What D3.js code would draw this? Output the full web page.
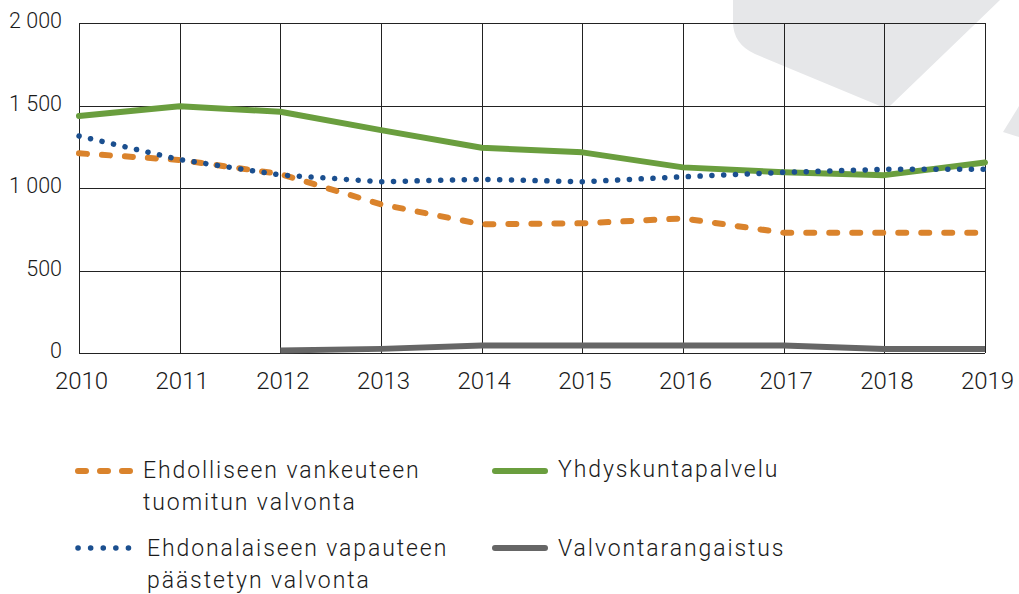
<!DOCTYPE html>
<html>
<head>
<meta charset="utf-8">
<script src="https://cdn.jsdelivr.net/npm/d3@7"></script>
<style>
  html, body { margin: 0; padding: 0; background: #fff; }
  svg { display: block; }
  text { font-family: Roboto, "Noto Sans", sans-serif; font-weight: 300; fill: #1a1a1a; }
</style>
</head>
<body>
<svg id="chart" width="1019" height="594"></svg>
<script>
const years = [2010, 2011, 2012, 2013, 2014, 2015, 2016, 2017, 2018, 2019];
const yTicks = [0, 500, 1000, 1500, 2000];

const ehdollinen = [1210, 1170, 1085, 901, 780, 786, 816, 729, 729, 729];
const ehdonalainen = [1315, 1172, 1079, 1038, 1053, 1038, 1068, 1095, 1113, 1113];
const yhdyskunta = [1436, 1495, 1462, 1351, 1244, 1216, 1125, 1096, 1078, 1155];
const valvontarangaistus = [null, null, 15, 25, 45, 45, 45, 45, 25, 25];

const seriesNames = [
  ["Ehdolliseen vankeuteen", "tuomitun valvonta"],
  ["Ehdonalaiseen vapauteen", "päästetyn valvonta"],
  ["Yhdyskuntapalvelu"],
  ["Valvontarangaistus"]
];

const svg = d3.select("#chart");
const x = d3.scaleLinear().domain([2010, 2019]).range([79, 985]);
const y = d3.scaleLinear().domain([0, 2000]).range([353, 23]);

const fmt = d3.formatLocale({decimal: ",", thousands: " ", grouping: [3], currency: ["", "€"]}).format(",d");

// decorative background shapes
svg.append("path")
  .attr("d", "M733,0 L733,22 Q733,44 755,54 L880,106 Q887,110 892,104 L1000,0 Z")
  .attr("fill", "#e6e7e9");
svg.append("path")
  .attr("d", "M1003,132 L1019,106 L1019,137 Z")
  .attr("fill", "#e6e7e9");

// gridlines
const grid = svg.append("g");
grid.selectAll("line.h").data(yTicks).enter().append("line")
  .attr("x1", x(2010)).attr("x2", x(2019))
  .attr("y1", d => Math.round(y(d)) + 0.5).attr("y2", d => Math.round(y(d)) + 0.5)
  .attr("stroke", "#222").attr("stroke-width", 1);
grid.selectAll("line.v").data(years).enter().append("line")
  .attr("x1", d => Math.round(x(d)) + 0.5).attr("x2", d => Math.round(x(d)) + 0.5)
  .attr("y1", y(2000)).attr("y2", y(0))
  .attr("stroke", "#222").attr("stroke-width", 1);

// axis labels via d3 axes
const yAxis = d3.axisLeft(y).tickValues(yTicks).tickFormat(fmt).tickSize(0).tickPadding(0);
const gy = svg.append("g").attr("transform", "translate(62,-2)").call(yAxis);
gy.select(".domain").remove();
gy.selectAll("text").attr("font-size", 21.5).attr("font-family", "Roboto").attr("font-weight", 300).attr("fill", "#1a1a1a");

const xAxis = d3.axisBottom(x).tickValues(years).tickFormat(d3.format("d")).tickSize(0).tickPadding(0);
const gx = svg.append("g").attr("transform", "translate(2,372)").call(xAxis);
gx.select(".domain").remove();
gx.selectAll("text").attr("font-size", 24).attr("font-family", "Roboto").attr("font-weight", 300).attr("fill", "#1a1a1a").attr("dy", "0.71em");

const line = d3.line().defined(d => d[1] != null).x(d => x(d[0])).y(d => y(d[1]));
const pts = arr => years.map((yr, i) => [yr, arr[i]]);

const colors = {
  orange: "#da832c",
  blue: "#1b4f8f",
  green: "#6a9e3e",
  gray: "#666666"
};

svg.append("path").attr("d", line(pts(valvontarangaistus)))
  .attr("fill", "none").attr("stroke", colors.gray).attr("stroke-width", 6);
svg.append("path").attr("d", line(pts(ehdollinen)))
  .attr("fill", "none").attr("stroke", colors.orange).attr("stroke-width", 6)
  .attr("stroke-linecap", "round").attr("stroke-dasharray", "8,15");
svg.append("path").attr("d", line(pts(yhdyskunta)))
  .attr("fill", "none").attr("stroke", colors.green).attr("stroke-width", 6)
  .attr("stroke-linecap", "round").attr("stroke-linejoin", "round");
svg.append("path").attr("d", line(pts(ehdonalainen)))
  .attr("fill", "none").attr("stroke", colors.blue).attr("stroke-width", 5.5)
  .attr("stroke-linecap", "round").attr("stroke-dasharray", "0.1,11.7");

// legend
const legend = svg.append("g");
const leg = [
  {x1: 78, x2: 131, yl: 471, tx: 143, ty: 478, color: colors.orange, dash: "8,14", w: 6, lines: seriesNames[0]},
  {x1: 78, x2: 131, yl: 548, tx: 147, ty: 556, color: colors.blue, dash: "0.1,12.5", w: 5.5, lines: seriesNames[1]},
  {x1: 495, x2: 545, yl: 471, tx: 558, ty: 477, color: colors.green, dash: null, w: 6, lines: seriesNames[2]},
  {x1: 495, x2: 545, yl: 548, tx: 558, ty: 556, color: colors.gray, dash: null, w: 6, lines: seriesNames[3]}
];
leg.forEach(l => {
  legend.append("line")
    .attr("x1", l.x1).attr("x2", l.x2).attr("y1", l.yl).attr("y2", l.yl)
    .attr("stroke", l.color).attr("stroke-width", l.w).attr("stroke-linecap", "round")
    .attr("stroke-dasharray", l.dash);
  const t = legend.append("text").attr("x", l.tx).attr("y", l.ty)
    .attr("font-size", 23).attr("letter-spacing", 1.9);
  l.lines.forEach((s, i) => {
    t.append("tspan").attr("x", l.tx).attr("dy", i === 0 ? 0 : 32).text(s);
  });
});
</script>
</body>
</html>
